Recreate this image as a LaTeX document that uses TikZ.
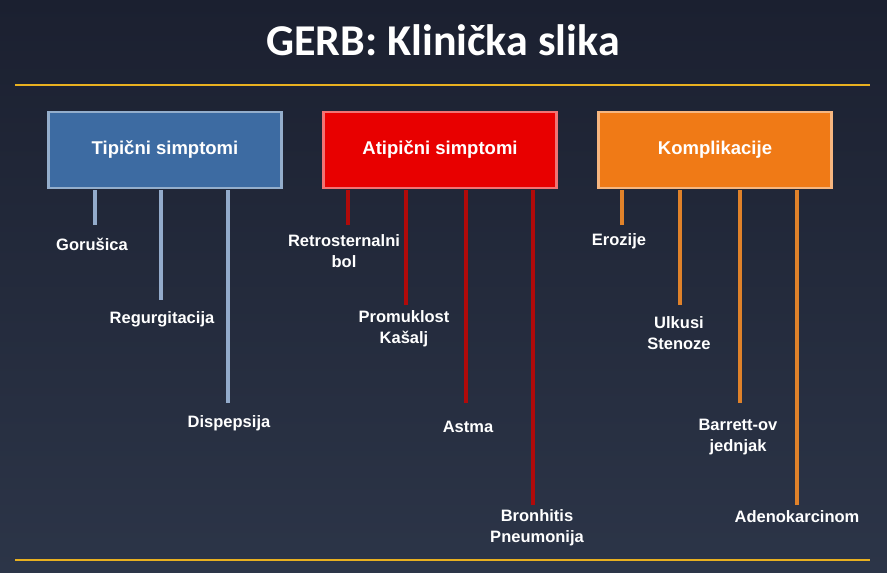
\documentclass[tikz,border=0pt]{standalone}
\usepackage{fontspec}
\setmainfont{Liberation Sans}
\newfontfamily\titlefont{Carlito}
\usetikzlibrary{positioning}
\definecolor{bgtop}{HTML}{1B2030}
\definecolor{bgbot}{HTML}{2C3548}
\definecolor{gold}{HTML}{E8B020}
\definecolor{tipfill}{HTML}{3D6BA2}
\definecolor{tipstem}{HTML}{93ABCB}
\definecolor{atifill}{HTML}{E80000}
\definecolor{atistem}{HTML}{B00A0A}
\definecolor{komfill}{HTML}{F07A16}
\definecolor{komstem}{HTML}{E0822A}
\tikzset{
  groupbox/.style={draw=#1fill!55!white, line width=2.5pt, fill=#1fill,
    minimum width=233pt, minimum height=76pt, text=white,
    font=\bfseries\fontsize{18.5}{22}\selectfont},
  stem/.style={line width=4.5pt, draw=#1},
  leaf/.style={text=white, align=center, inner sep=0pt,
    font=\bfseries\fontsize{16.5}{21}\selectfont}
}
\begin{document}
\begin{tikzpicture}[x=1pt,y=-1pt]

    % Background
    \useasboundingbox (0,0) rectangle (887,573);
    \shade[top color=bgtop, bottom color=bgbot] (0,0) rectangle (887,573);
    \node[text=white, font=\titlefont\bfseries\fontsize{44}{48}\selectfont]
      (title) at (443,40) {GERB: Klinička slika};
    \draw[gold, line width=2pt] (15,85) -- (870,85);
    \draw[gold, line width=2pt] (15,560) -- (870,560);

    % Groups
    \node[groupbox=tip] (tip) at (165,150) {Tipični simptomi};
    \node[groupbox=ati] (ati) at (440,150) {Atipični simptomi};
    \node[groupbox=kom] (kom) at (715,150) {Komplikacije};

    % Tipicni
    \foreach \x/\y/\n in {95/225/t1, 161/300/t2, 228/403/t3}
      \draw[stem=tipstem] (\x,190) -- (\x,\y) coordinate (\n);
    \node[leaf] (gorusica) at (92,244) {Gorušica};
    \node[leaf] (regurg) at (162,319) {Regurgitacija};
    \node[leaf] (dispep) at (229,423) {Dispepsija};

    % Atipicni
    \foreach \x/\y/\n in {348/225/a1, 406/305/a2, 466/403/a3, 533/505/a4}
      \draw[stem=atistem] (\x,190) -- (\x,\y) coordinate (\n);
    \node[leaf] (retro) at (344,251) {Retrosternalni\\bol};
    \node[leaf] (promuk) at (404,329) {Promuklost\\Kašalj};
    \node[leaf] (astma) at (468,427) {Astma};
    \node[leaf] (bronh) at (537,528) {Bronhitis\\Pneumonija};

    % Komplikacije
    \foreach \x/\y/\n in {622/225/k1, 680/305/k2, 740/403/k3, 797/505/k4}
      \draw[stem=komstem] (\x,190) -- (\x,\y) coordinate (\n);
    \node[leaf] (erozije) at (619,241) {Erozije};
    \node[leaf] (ulkusi) at (679,333) {Ulkusi\\Stenoze};
    \node[leaf] (barrett) at (738,437) {Barrett-ov\\jednjak};
    \node[leaf] (adeno) at (797,517) {Adenokarcinom};

\end{tikzpicture}
\end{document}
